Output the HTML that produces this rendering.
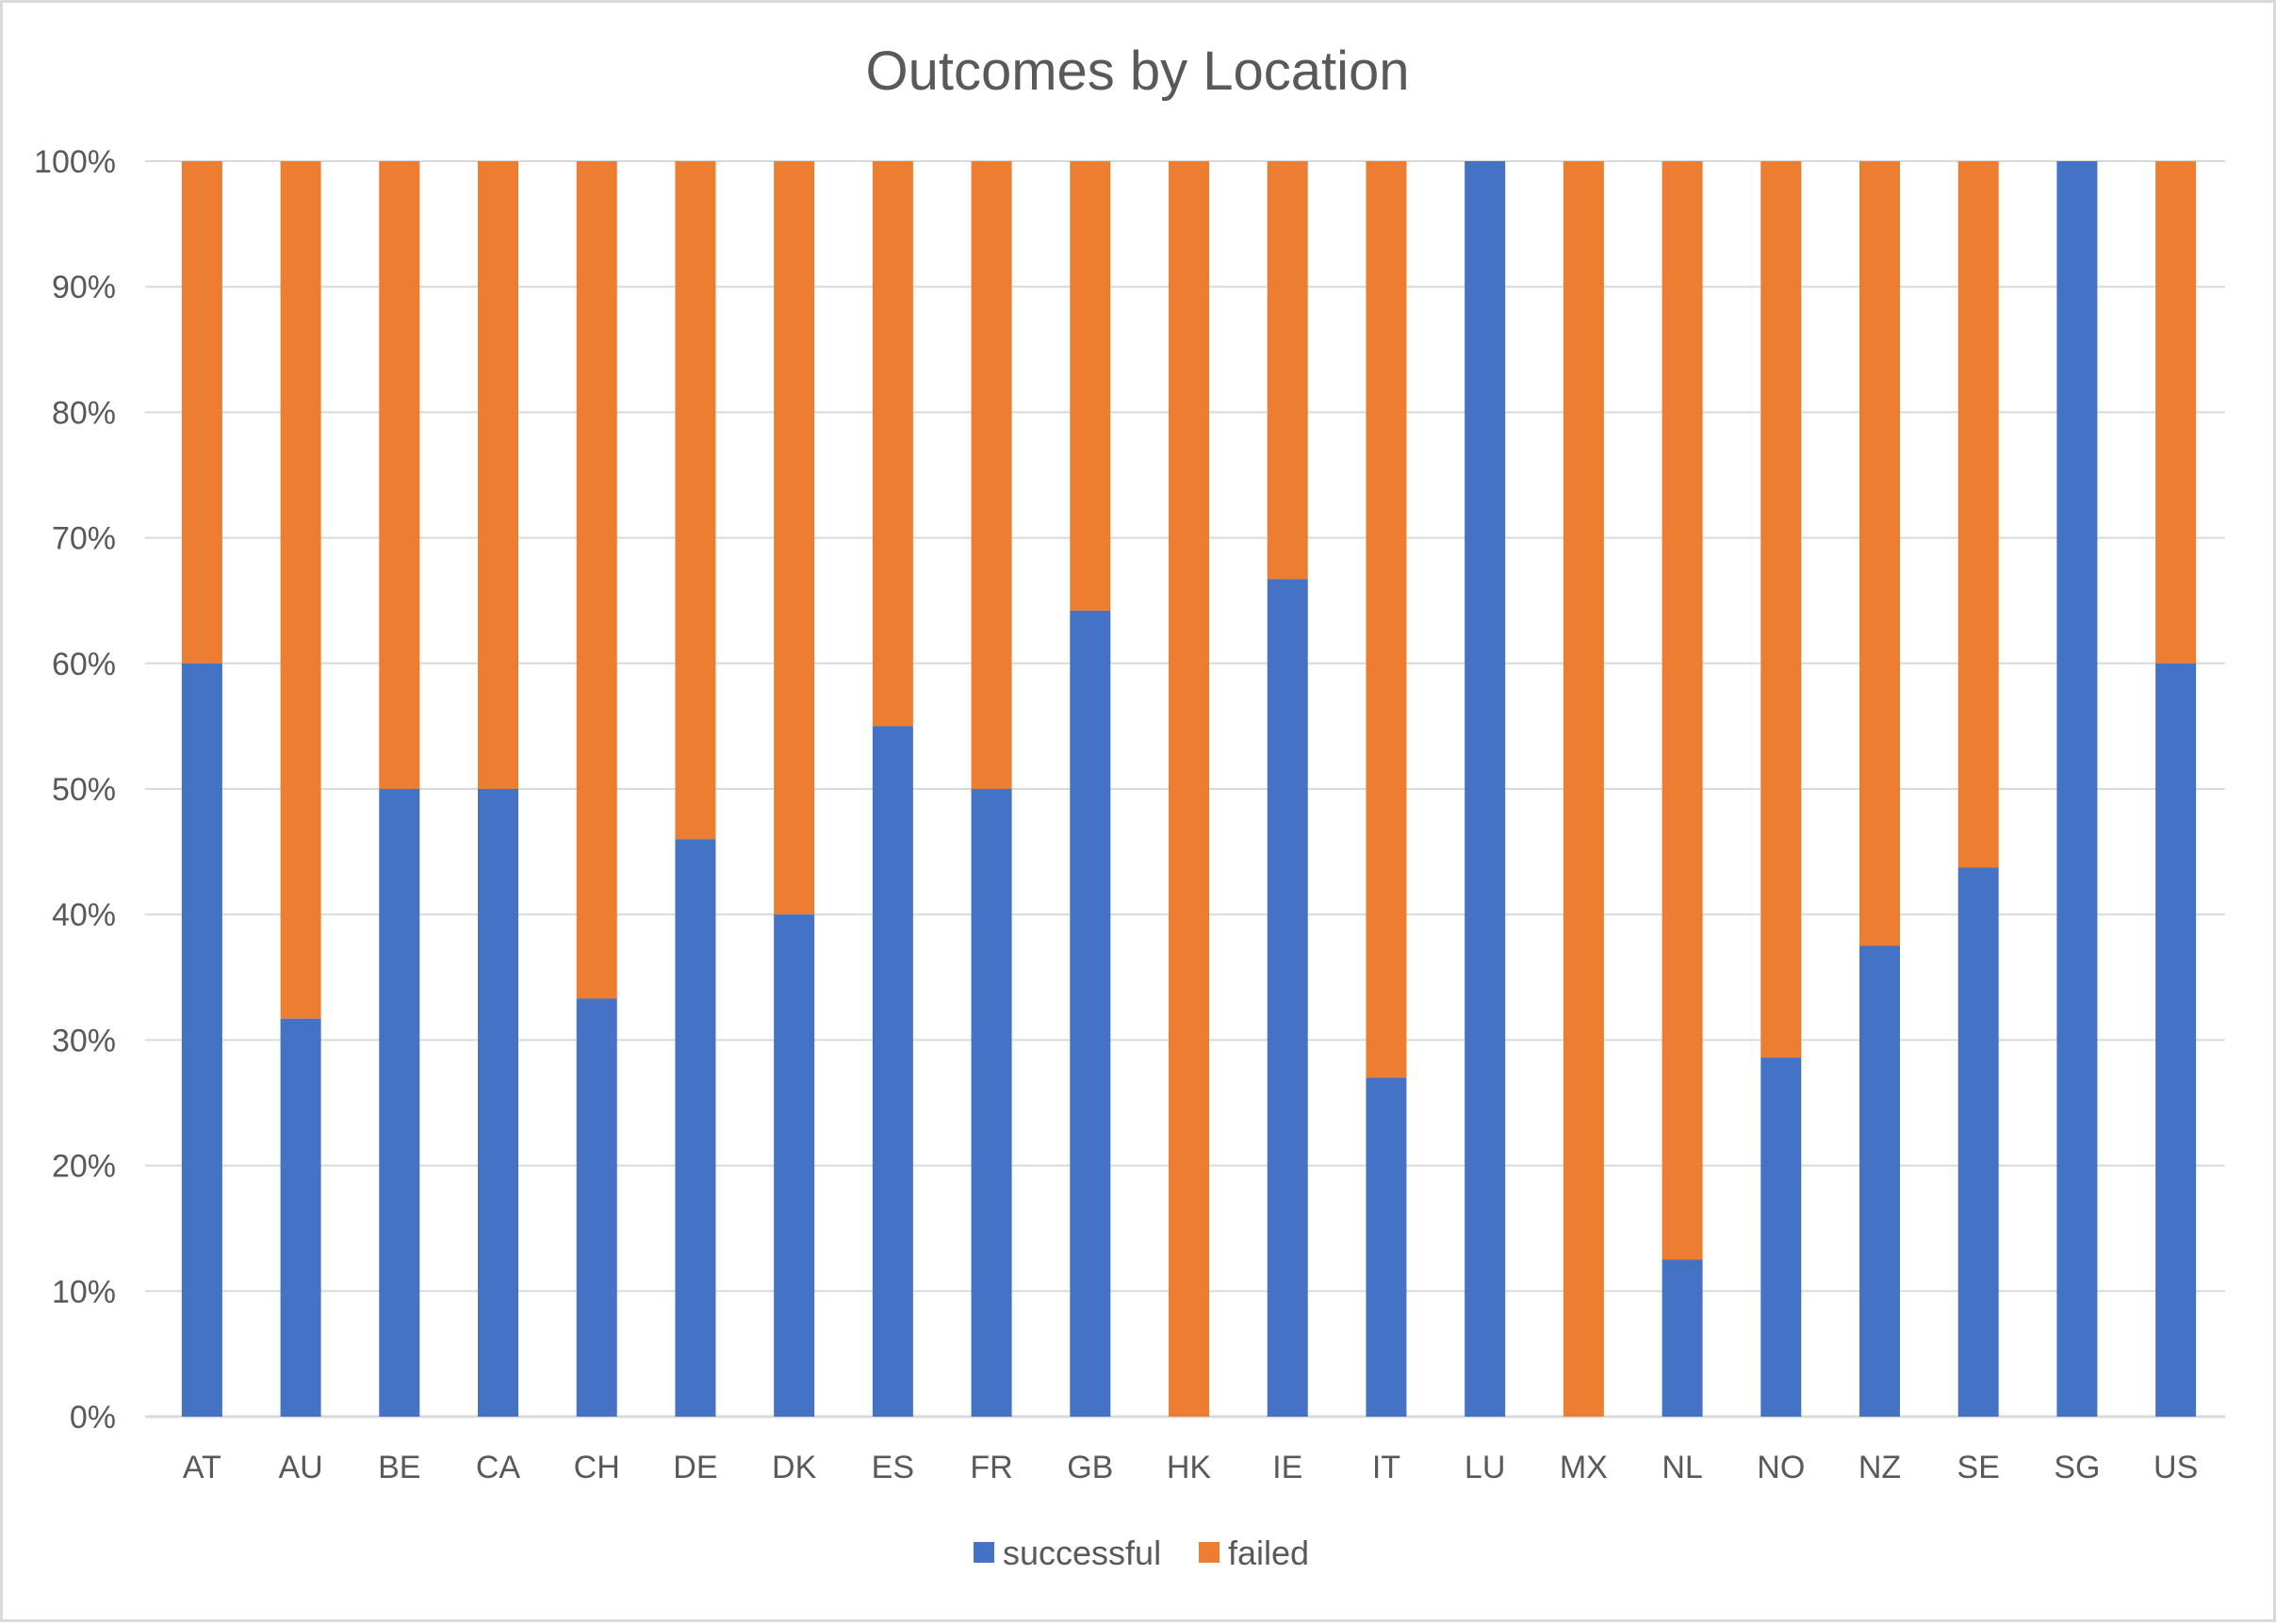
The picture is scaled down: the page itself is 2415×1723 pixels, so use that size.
<!DOCTYPE html>
<html><head><meta charset="utf-8"><style>
html,body{margin:0;padding:0;background:#fff}
svg{display:block}
text{font-family:"Liberation Sans",sans-serif;fill:#595959}
</style></head><body>
<svg id="chart" width="2415" height="1723" viewBox="0 0 2415 1723" xmlns="http://www.w3.org/2000/svg">
<rect x="1.5" y="1.5" width="2412" height="1718" fill="#fff" stroke="#d9d9d9" stroke-width="3"/>
<text x="1207" y="95" font-size="58" text-anchor="middle">Outcomes by Location</text>
<g id="grid"></g><g id="bars"></g><g id="labels"></g>
<g>
<rect x="1033" y="1636" width="22" height="22" fill="#4472c4"/>
<text x="1064" y="1660" font-size="36">successful</text>
<rect x="1272" y="1636" width="22" height="22" fill="#ed7d31"/>
<text x="1303" y="1660" font-size="36">failed</text>
</g>
</svg>
<script>
const categories=["AT","AU","BE","CA","CH","DE","DK","ES","FR","GB","HK","IE","IT","LU","MX","NL","NO","NZ","SE","SG","US"];
const successful=[60,31.7,50,50,33.3,46,40,55,50,64.2,0,66.7,27,100,0,12.5,28.6,37.5,43.75,100,60];
const yTicks=[0,10,20,30,40,50,60,70,80,90,100];
const NS="http://www.w3.org/2000/svg";
const L=162,R=2361,T=171,B=1503;
const band=(R-L)/categories.length, bw=43;
const y=v=>B-(v/100)*(B-T);
const x=i=>L+band*(i+0.5);
function mk(tag,attrs,parent){const e=document.createElementNS(NS,tag);for(const k in attrs)e.setAttribute(k,attrs[k]);parent.appendChild(e);return e;}
const grid=document.getElementById('grid'),bars=document.getElementById('bars'),labels=document.getElementById('labels');
yTicks.forEach(t=>{
 const ln=mk('line',{x1:L-8,x2:R,y1:y(t),y2:y(t),stroke:'#d9d9d9','stroke-width':t===0?3:2},grid);
 
 
 const tx=mk('text',{x:123,y:y(t)+12,'font-size':34,'text-anchor':'end'},labels);
 tx.textContent=t+'%';
 
 
});
categories.forEach((c,i)=>{
 const s=successful[i];
 const f=mk('rect',{x:x(i)-bw/2,y:y(100),width:bw,height:y(s)-y(100),fill:'#ed7d31'},bars);
 
 
 const b=mk('rect',{x:x(i)-bw/2,y:y(s),width:bw,height:B-y(s),fill:'#4472c4'},bars);
 
 
 const tx=mk('text',{x:x(i),y:1568,'font-size':34,'text-anchor':'middle'},labels);
 tx.textContent=c;
 
 
});
</script>
</body></html>
